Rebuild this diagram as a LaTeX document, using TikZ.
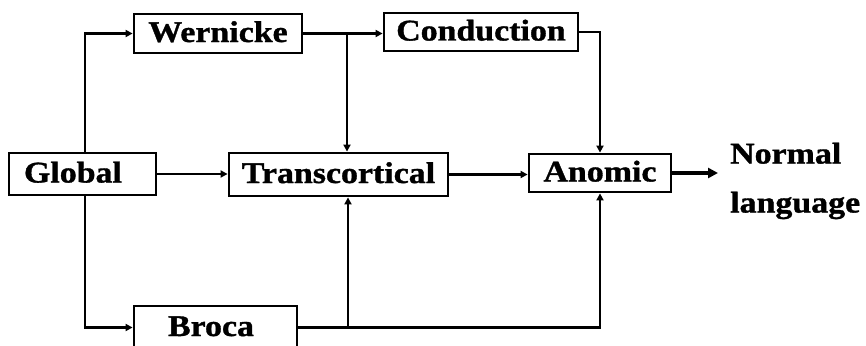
\documentclass[tikz,border=0pt]{standalone}
\usepackage{fontspec}
\setmainfont{Liberation Serif}[FakeStretch=1.13, BoldFeatures={FakeBold=1.2}]
\usetikzlibrary{arrows.meta}
\begin{document}
\begin{tikzpicture}[x=1pt,y=-1pt,
  lbl/.style={font=\fontsize{30}{49}\selectfont\bfseries},
  box/.style={lbl, draw, line width=2.8pt, inner sep=0pt, text height=22pt, text depth=5pt},
  arr/.style={line width=2.2pt, -{Triangle[length=7pt,width=7pt]}},
  bigarr/.style={line width=3.2pt, -{Triangle[length=10pt,width=10pt]}}]
\useasboundingbox (0,0) rectangle (866,345);
\clip (0,0) rectangle (866,345);
% boxes
\node[box, minimum width=168pt, minimum height=39pt] (w) at (218,33.5) {Wernicke};
\node[box, minimum width=194pt, minimum height=38pt] (c) at (481,32) {Conduction};
\node[box, text width=117pt, align=left, inner xsep=15pt, minimum height=42pt] (g) at (82.5,174) {Global};
\node[box, minimum width=219pt, minimum height=43pt] (t) at (338.5,174.5) {Transcortical};
\node[box, minimum width=142pt, minimum height=38pt] (a) at (600,173) {Anomic};
\node[box, text width=95pt, align=left, inner xsep=34pt, minimum height=43pt] (br) at (215.5,327.5) {Broca};
\node[lbl, align=left, anchor=north west, inner sep=0pt] (nl) at (730,142.5) {Normal\\language};
% helper coordinates
\coordinate (gx) at (85,0);
\coordinate (wb) at (347,0);
\coordinate (bb) at (348,0);
\coordinate (aend) at (718,0);
% connectors
\draw[arr] (g.north -| gx) |- (w.west);
\draw[arr] (w.east) -- (w.east -| c.west);
\draw[arr] (w.east -| wb) -- (t.north -| wb);
\draw[arr] (c.east) -| (a.north);
\draw[arr] (g.east) -- (g.east -| t.west);
\draw[arr] (t.east) -- (t.east -| a.west);
\draw[bigarr] (a.east) -- (a.east -| aend);
\draw[arr] (g.south -| gx) |- (br.west);
\draw[arr] (br.east) -| (t.south -| bb);
\draw[arr] (br.east) -| (a.south);
\end{tikzpicture}
\end{document}
